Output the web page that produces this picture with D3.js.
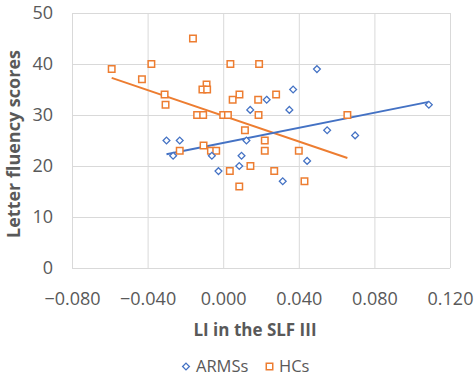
<!DOCTYPE html>
<html lang="en">
<head>
    <meta charset="utf-8">
    <title>Letter fluency vs LI</title>
    <style type="text/css">
        body { margin: 0; background: #fff; }
        .chart text { font-family: "Open Sans", sans-serif; fill: #595959; }
        .grid line { stroke: #d9d9d9; stroke-width: 1; }
        .grid path { display: none; }
        .grid text { font-size: 18px; }
        .title { font-weight: bold; }
        .legend text { font-size: 16.5px; }
    </style>
</head>
<body>
<svg class="chart" width="474" height="376"></svg>
<script src="https://d3js.org/d3.v7.min.js"></script>
<script>
    // ARMSs (blue diamonds)
    var armsX = [-0.030, -0.023, -0.0265, -0.006, -0.0025, 0.0085, 0.0097, 0.0123, 0.0143,
                 0.023, 0.035, 0.037, 0.0496, 0.055, 0.0698, 0.1088, 0.0444, 0.0315];
    var armsY = [25, 25, 22, 22, 19, 20, 22, 25, 31, 33, 31, 35, 39, 27, 26, 32, 21, 17];

    // HCs (orange squares)
    var hcsX = [-0.059, -0.043, -0.038, -0.031, -0.0305, -0.016, -0.0088, -0.011, -0.0085,
                -0.0138, -0.0106, 0.0, 0.0025, 0.0038, 0.019, 0.005, 0.0086, 0.0185, 0.0187,
                0.0115, 0.028, 0.022, 0.022, -0.023, -0.0104, -0.0065, -0.0037, 0.0035,
                0.0144, 0.027, 0.0085, 0.040, 0.043, 0.0657];
    var hcsY = [39, 37, 40, 34, 32, 45, 36, 35, 35, 30, 30, 30, 30, 40, 40, 33, 34, 33, 30,
                27, 34, 25, 23, 23, 24, 23, 23, 19, 20, 19, 16, 23, 17, 30];

    var xTicks = [-0.08, -0.04, 0, 0.04, 0.08, 0.12];
    var yTicks = [0, 10, 20, 30, 40, 50];

    var blue = '#4472c4', orange = '#ed7d31';

    var svg = d3.select('.chart');
    var plot = {left: 72, right: 450, top: 13, bottom: 268};

    var x = d3.scaleLinear().domain([-0.08, 0.12]).range([plot.left, plot.right]);
    var y = d3.scaleLinear().domain([0, 50]).range([plot.bottom, plot.top]);

    // 网格 + 刻度
    svg.append('g')
        .attr('class', 'grid')
        .attr('transform', 'translate(0,' + plot.bottom + ')')
        .call(d3.axisBottom(x).tickValues(xTicks).tickFormat(d3.format('.3f'))
            .tickSizeInner(-(plot.bottom - plot.top)).tickSizeOuter(0).tickPadding(24));

    svg.append('g')
        .attr('class', 'grid')
        .attr('transform', 'translate(' + plot.left + ',0)')
        .call(d3.axisLeft(y).tickValues(yTicks)
            .tickSizeInner(-(plot.right - plot.left)).tickSizeOuter(0).tickPadding(19));

    // 线性趋势线
    function fit(xs, ys) {
        var mx = d3.mean(xs), my = d3.mean(ys), sxy = 0, sxx = 0;
        xs.forEach(function(v, i) {
            sxy += (v - mx) * (ys[i] - my);
            sxx += (v - mx) * (v - mx);
        });
        var b = sxy / sxx, a = my - b * mx;
        var x0 = d3.min(xs), x1 = d3.max(xs);
        return [[x0, a + b * x0], [x1, a + b * x1]];
    }

    var line = d3.line().x(function(d) { return x(d[0]); }).y(function(d) { return y(d[1]); });

    svg.append('path').datum(fit(hcsX, hcsY))
        .attr('d', line).attr('fill', 'none').attr('stroke', orange).attr('stroke-width', 2);
    svg.append('path').datum(fit(armsX, armsY))
        .attr('d', line).attr('fill', 'none').attr('stroke', blue).attr('stroke-width', 2);

    var square = d3.symbol().type(d3.symbolSquare).size(42);
    var diamond = 'M0,-3.4L3.4,0L0,3.4L-3.4,0Z';

    svg.append('g').selectAll('path')
        .data(hcsX)
        .enter().append('path')
        .attr('d', square)
        .attr('transform', function(d, i) { return 'translate(' + x(d) + ',' + y(hcsY[i]) + ')'; })
        .attr('fill', '#fff').attr('stroke', orange).attr('stroke-width', 1.5);

    svg.append('g').selectAll('path')
        .data(armsX)
        .enter().append('path')
        .attr('d', diamond)
        .attr('transform', function(d, i) { return 'translate(' + x(d) + ',' + y(armsY[i]) + ')'; })
        .attr('fill', '#fff').attr('stroke', blue).attr('stroke-width', 1.3);

    // 轴标题
    svg.append('text').attr('class', 'title')
        .attr('x', 255).attr('y', 336).attr('text-anchor', 'middle')
        .style('font-size', '17px')
        .text('LI in the SLF III');

    svg.append('text').attr('class', 'title')
        .attr('transform', 'translate(19.5,144) rotate(-90)')
        .attr('text-anchor', 'middle')
        .style('font-size', '18px')
        .text('Letter fluency scores');

    // 图例
    var legend = svg.append('g').attr('class', 'legend');
    legend.append('path').attr('d', diamond)
        .attr('transform', 'translate(186,366.5)')
        .attr('fill', '#fff').attr('stroke', blue).attr('stroke-width', 1.3);
    legend.append('text').attr('x', 196).attr('y', 372).text('ARMSs');
    legend.append('path').attr('d', square)
        .attr('transform', 'translate(269.5,366.5)')
        .attr('fill', '#fff').attr('stroke', orange).attr('stroke-width', 1.5);
    legend.append('text').attr('x', 279).attr('y', 372).text('HCs');
</script>
</body>
</html>
